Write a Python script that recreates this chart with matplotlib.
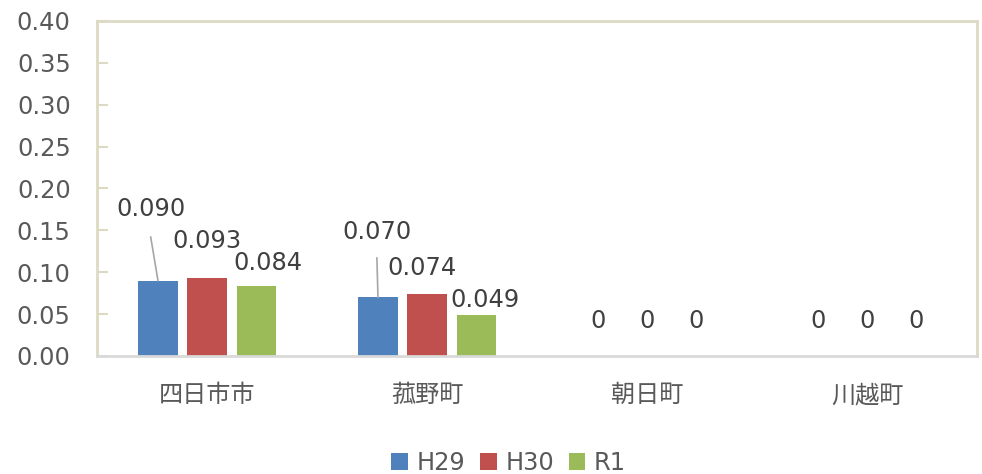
import matplotlib
matplotlib.use("Agg")
import matplotlib.pyplot as plt
import numpy as np

plt.rcParams['font.family'] = ['DejaVu Sans', 'Noto Sans CJK JP']

# data
towns = ['四日市市', '菰野町', '朝日町', '川越町']
years = ['H29', 'H30', 'R1']
h29 = [0.090, 0.070, 0, 0]
h30 = [0.093, 0.074, 0, 0]
r1 = [0.084, 0.049, 0, 0]
label_fmt = ['{:.3f}', '{:.3f}', '{:.0f}', '{:.0f}']

colors = ['#4F81BD', '#C0504D', '#9BBB59']
text_col = '#595959'
frame_col = '#DDD9C3'
fs = 17.4

fig = plt.figure(figsize=(9.82, 4.74), dpi=100)
ax = fig.add_axes([0.0988, 0.249, 0.8962, 0.7067])

x = np.arange(len(towns))
w = 0.178
step = 0.223
series = [h29, h30, r1]
for i, (vals, c, name) in enumerate(zip(series, colors, years)):
    ax.bar(x + (i - 1) * step, vals, w, color=c, label=name, zorder=2)

# label offsets (dx, dy in data units) relative to bar top
offs = {
    (0, 0): (-0.033, 0.086), (0, 1): (0.0, 0.044), (0, 2): (0.055, 0.027),
    (1, 0): (-0.005, 0.078), (1, 1): (-0.025, 0.031), (1, 2): (0.04, 0.018),
}
for i, vals in enumerate(series):
    for j, v in enumerate(vals):
        xc = x[j] + (i - 1) * step
        dx, dy = offs.get((j, i), (0.0, 0.042))
        txt = label_fmt[j].format(v)
        ax.text(xc + dx, v + dy, txt, ha='center', va='center',
                fontsize=fs, color='#404040', zorder=3)
        if (j, i) in [(0, 0), (1, 0)]:
            ax.plot([xc + dx, xc], [v + dy - 0.034 + (0.003 if j == 1 else 0), v],
                    color='#A6A6A6', lw=1.2, zorder=3)

ax.set_xlim(-0.5, 3.5)
ax.set_ylim(0, 0.40)
ax.set_yticks(np.arange(0, 0.401, 0.05))
ax.set_yticklabels(['{:.2f}'.format(t) for t in np.arange(0, 0.401, 0.05)])
ax.set_xticks(x)
ax.set_xticklabels(towns, family=['Noto Sans CJK JP'])

ax.tick_params(axis='y', direction='in', length=8, width=1.5, color=frame_col,
               pad=19, labelsize=fs, labelcolor=text_col)
ax.tick_params(axis='x', length=0, pad=19, labelsize=fs, labelcolor=text_col)

for s in ['left', 'top', 'right']:
    ax.spines[s].set_color(frame_col)
    ax.spines[s].set_linewidth(2)
ax.spines['bottom'].set_color('#D9D9D9')
ax.spines['bottom'].set_linewidth(2)

leg = fig.legend(loc='lower center', bbox_to_anchor=(0.518, -0.047), ncol=3,
                 frameon=False, fontsize=fs, handlelength=0.7, handleheight=0.7,
                 handletextpad=0.35, columnspacing=0.6)
for t in leg.get_texts():
    t.set_color(text_col)

fig.savefig('out.png', dpi=100)
